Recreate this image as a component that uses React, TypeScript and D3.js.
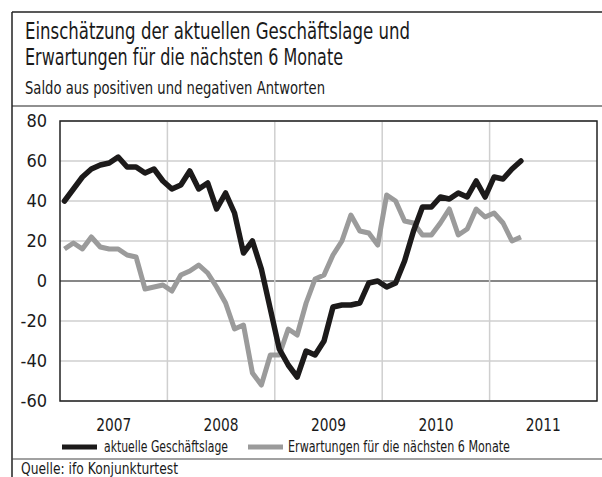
import React from 'react';
import * as d3 from 'd3';

// Monthly values Jan 2007 - Apr 2011
const years = ['2007', '2008', '2009', '2010', '2011'];
const lage = [
  40, 46, 52, 56, 58, 59, 62, 57, 57, 54, 56, 50,
  46, 48, 55, 46, 49, 36, 44, 34, 14, 20, 6, -14,
  -34, -42, -48, -35, -37, -30, -13, -12, -12, -11, -1, 0,
  -3, -1, 10, 25, 37, 37, 42, 41, 44, 42, 50, 42,
  52, 51, 56, 60,
];
const erwartungen = [
  16, 19, 16, 22, 17, 16, 16, 13, 12, -4, -3, -2,
  -5, 3, 5, 8, 4, -3, -11, -24, -22, -46, -52, -37,
  -37, -24, -27, -11, 1, 3, 13, 20, 33, 25, 24, 18,
  43, 40, 30, 29, 23, 23, 29, 36, 23, 26, 36, 32,
  34, 29, 20, 22,
];
const yTicks = [80, 60, 40, 20, 0, -20, -40, -60];

const W = 602;
const H = 477;
const font = '"DejaVu Sans Condensed", "Liberation Sans Narrow", sans-serif';

export default function App() {
  const x = d3.scaleLinear().domain([0, 60]).range([60, 597]);
  const y = d3.scaleLinear().domain([-60, 80]).range([401, 121]);

  const line = d3.line<number>()
    .x((d, i) => x(i + 0.5))
    .y(d => y(d))
    .curve(d3.curveLinear);

  const txt = '#1a1a1a';

  return (
    <svg width={W} height={H} style={{ position: 'absolute', left: 0, top: 0, display: 'block' }} fontFamily={font}>
      <rect width={W} height={H} fill="#fff" />
      {/* frame */}
      <line x1={12} x2={W} y1={12} y2={12} stroke="#222" strokeWidth={1.5} />
      <line x1={12} x2={12} y1={12} y2={H} stroke="#222" strokeWidth={1.5} />
      <line x1={12} x2={W} y1={106} y2={106} stroke="#222" strokeWidth={1.2} />
      <line x1={12} x2={W} y1={459} y2={459} stroke="#444" strokeWidth={1.2} />

      <text x={25} y={39} fontSize={23} fill={txt} textLength={385} lengthAdjust="spacingAndGlyphs">Einschätzung der aktuellen Geschäftslage und</text>
      <text x={25} y={65} fontSize={23} fill={txt} textLength={318} lengthAdjust="spacingAndGlyphs">Erwartungen für die nächsten 6 Monate</text>
      <text x={25} y={94} fontSize={17} fill={txt} textLength={300} lengthAdjust="spacingAndGlyphs">Saldo aus positiven und negativen Antworten</text>

      {/* grid */}
      {yTicks.map(t => (
        <line key={'gy' + t} x1={60} x2={597} y1={y(t)} y2={y(t)}
          stroke={t === 0 ? '#111' : '#cfcfcf'} strokeWidth={t === 0 ? 1.2 : 1.5} />
      ))}
      {years.slice(1).map((yr, k) => (
        <line key={'gx' + yr} x1={x(12 * (k + 1))} x2={x(12 * (k + 1))} y1={121} y2={401}
          stroke="#cfcfcf" strokeWidth={1.5} />
      ))}

      <path d={line(erwartungen) || ''} fill="none" stroke="#9b9b9b" strokeWidth={5} strokeLinejoin="round" />
      <path d={line(lage) || ''} fill="none" stroke="#1c1a1a" strokeWidth={5.5} strokeLinejoin="round" strokeLinecap="round" />

      <rect x={60} y={121} width={537} height={280} fill="none" stroke="#222" strokeWidth={1.5} />

      {yTicks.map(t => (
        <text key={'ty' + t} x={47} y={y(t) + 6} fontSize={18} textAnchor="end" fill={txt}>{t}</text>
      ))}
      {years.map((yr, k) => (
        <text key={'tx' + yr} x={x(12 * k + 6)} y={431} fontSize={18} textAnchor="middle" fill={txt}
          textLength={35} lengthAdjust="spacingAndGlyphs">{yr}</text>
      ))}

      {/* legend */}
      <line x1={62} x2={97} y1={447} y2={447} stroke="#1c1a1a" strokeWidth={5} />
      <text x={104} y={452} fontSize={15} fill={txt} textLength={124} lengthAdjust="spacingAndGlyphs">aktuelle Geschäftslage</text>
      <line x1={248} x2={283} y1={447} y2={447} stroke="#9b9b9b" strokeWidth={5} />
      <text x={288} y={452} fontSize={15} fill={txt} textLength={222} lengthAdjust="spacingAndGlyphs">Erwartungen für die nächsten 6 Monate</text>

      <text x={21} y={474} fontSize={15} fill={txt} textLength={157} lengthAdjust="spacingAndGlyphs">Quelle: ifo Konjunkturtest</text>
    </svg>
  );
}
